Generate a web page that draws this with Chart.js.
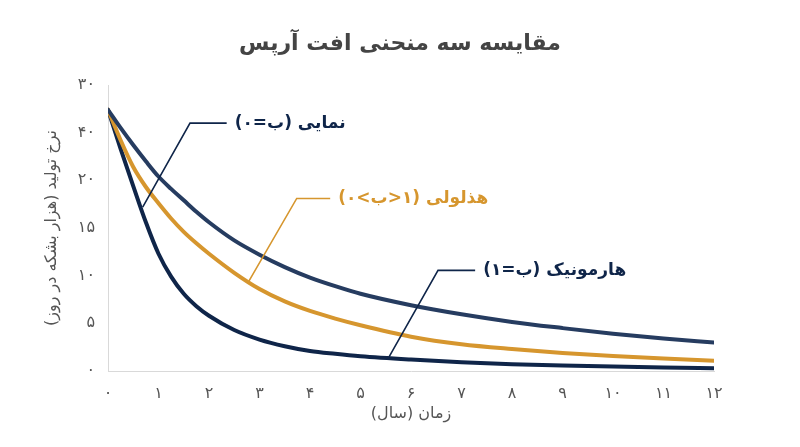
<!DOCTYPE html>
<html lang="fa">
<head>
<meta charset="utf-8">
<script src="https://cdn.jsdelivr.net/npm/chart.js@4/dist/chart.umd.min.js"></script>
<style>
  html, body { margin: 0; padding: 0; background: #ffffff; }
  #wrap { width: 800px; height: 447px; }
</style>
</head>
<body>
<div id="wrap"><canvas id="c" width="800" height="447"></canvas></div>
<script>
// ---- Data ----
const chartTitle = 'مقایسه سه منحنی افت آرپس';
const xAxisTitle = 'زمان (سال)';
const yAxisTitle = 'نرخ تولید (هزار بشکه در روز)';

const years = [0, 0.25, 0.5, 0.75, 1, 1.25, 1.5, 1.75, 2, 2.5, 3, 3.5, 4, 4.5, 5, 6, 7, 8, 9, 10, 11, 12];
const upperCurve  = [27.4, 25.5, 23.7, 22.0, 20.4, 19.1, 17.9, 16.7, 15.6, 13.7, 12.2, 10.9, 9.8, 8.9, 8.1, 6.9, 5.95, 5.15, 4.5, 3.9, 3.4, 3.0];
const middleCurve = [27.4, 24.2, 21.4, 19.3, 17.6, 16.0, 14.6, 13.4, 12.3, 10.3, 8.6, 7.3, 6.3, 5.5, 4.8, 3.6, 2.8, 2.3, 1.9, 1.57, 1.3, 1.08];
const lowerCurve  = [27.4, 23.3, 19.4, 15.6, 12.3, 9.9, 8.1, 6.8, 5.8, 4.3, 3.3, 2.6, 2.1, 1.8, 1.55, 1.2, 0.92, 0.72, 0.58, 0.47, 0.38, 0.3];

const xTickLabels = ['۰', '۱', '۲', '۳', '۴', '۵', '۶', '۷', '۸', '۹', '۱۰', '۱۱', '۱۲'];
const yTickLabels = ['۰', '۵', '۱۰', '۱۵', '۲۰', '۴۰', '۳۰'];

// annotation labels: text, anchor on curve [x,y], elbow [x,y], end of horizontal leader x
const annotationTexts   = ['نمایی (ب=۰)', 'هذلولی (۱<ب>۰)', 'هارمونیک (ب=۱)'];
const annotationAnchors = [[0.687, 17.2], [2.77, 9.25], [5.56, 1.42]];
const annotationElbows  = [[1.624, 26.0], [3.737, 18.1], [6.535, 10.55]];
const annotationEndsX   = [2.35, 4.40, 7.27];

const colNavy = '#0f2549';
const colSlate = '#263c60';
const colGold = '#d6962e';
const annotationColors = [colNavy, colGold, colNavy];

const persianFont = "'DejaVu Sans', 'Noto Sans', sans-serif";

function toPoints(xs, ys) { return xs.map((x, i) => ({ x: x, y: ys[i] })); }

const decorPlugin = {
  id: 'decor',
  afterDraw(chart) {
    const ctx = chart.ctx;
    const xs = chart.scales.x, ys = chart.scales.y;
    ctx.save();
    // title
    ctx.direction = 'rtl';
    ctx.fillStyle = '#444444';
    ctx.font = 'bold 22px ' + persianFont;
    ctx.textAlign = 'center';
    ctx.textBaseline = 'middle';
    ctx.fillText(chartTitle, 400, 44);
    // x axis title
    ctx.fillStyle = '#555555';
    ctx.font = '16px ' + persianFont;
    ctx.fillText(xAxisTitle, (xs.left + xs.right) / 2, 414);
    // y axis title
    ctx.save();
    ctx.translate(52, (ys.top + ys.bottom) / 2);
    ctx.rotate(-Math.PI / 2);
    ctx.fillText(yAxisTitle, 0, 0);
    ctx.restore();
    // annotations
    for (let i = 0; i < annotationTexts.length; i++) {
      const ax = xs.getPixelForValue(annotationAnchors[i][0]);
      const ay = ys.getPixelForValue(annotationAnchors[i][1]);
      const ex = xs.getPixelForValue(annotationElbows[i][0]);
      const ey = ys.getPixelForValue(annotationElbows[i][1]);
      const hx = xs.getPixelForValue(annotationEndsX[i]);
      ctx.strokeStyle = annotationColors[i];
      ctx.lineWidth = 1.6;
      ctx.beginPath();
      ctx.moveTo(ax, ay);
      ctx.lineTo(ex, ey);
      ctx.lineTo(hx, ey);
      ctx.stroke();
      ctx.fillStyle = annotationColors[i];
      ctx.font = 'bold 17px ' + persianFont;
      ctx.textAlign = 'left';
      ctx.textBaseline = 'middle';
      ctx.fillText(annotationTexts[i], hx + 8, ey);
    }
    ctx.restore();
  }
};

const lineCommon = {
  borderWidth: 4,
  pointRadius: 0,
  fill: false,
  cubicInterpolationMode: 'monotone',
  borderCapStyle: 'round',
  borderJoinStyle: 'round'
};

new Chart(document.getElementById('c'), {
  type: 'line',
  data: {
    datasets: [
      Object.assign({ label: 'upper', data: toPoints(years, upperCurve), borderColor: colSlate }, lineCommon),
      Object.assign({ label: 'middle', data: toPoints(years, middleCurve), borderColor: colGold }, lineCommon),
      Object.assign({ label: 'lower', data: toPoints(years, lowerCurve), borderColor: colNavy }, lineCommon)
    ]
  },
  options: {
    responsive: false,
    animation: false,
    layout: { padding: { top: 85, right: 86, left: 0, bottom: 0 } },
    plugins: {
      legend: { display: false },
      title: { display: false },
      tooltip: { enabled: false }
    },
    scales: {
      x: {
        type: 'linear',
        min: 0, max: 12,
        afterFit(scale) { scale.height = 76; },
        grid: { display: false, drawTicks: false },
        border: { display: true, color: '#d9d9d9', width: 1 },
        ticks: {
          stepSize: 1,
          padding: 13,
          color: '#555555',
          font: { family: persianFont, size: 16 },
          maxRotation: 0,
          autoSkip: false,
          callback: (v, i) => xTickLabels[i]
        }
      },
      y: {
        min: 0, max: 30,
        afterFit(scale) { scale.width = 108; },
        grid: { display: false, drawTicks: false },
        border: { display: true, color: '#d9d9d9', width: 1 },
        ticks: {
          stepSize: 5,
          padding: 13,
          color: '#555555',
          font: { family: persianFont, size: 16 },
          callback: (v, i) => yTickLabels[i]
        }
      }
    }
  },
  plugins: [decorPlugin]
});
</script>
</body>
</html>
